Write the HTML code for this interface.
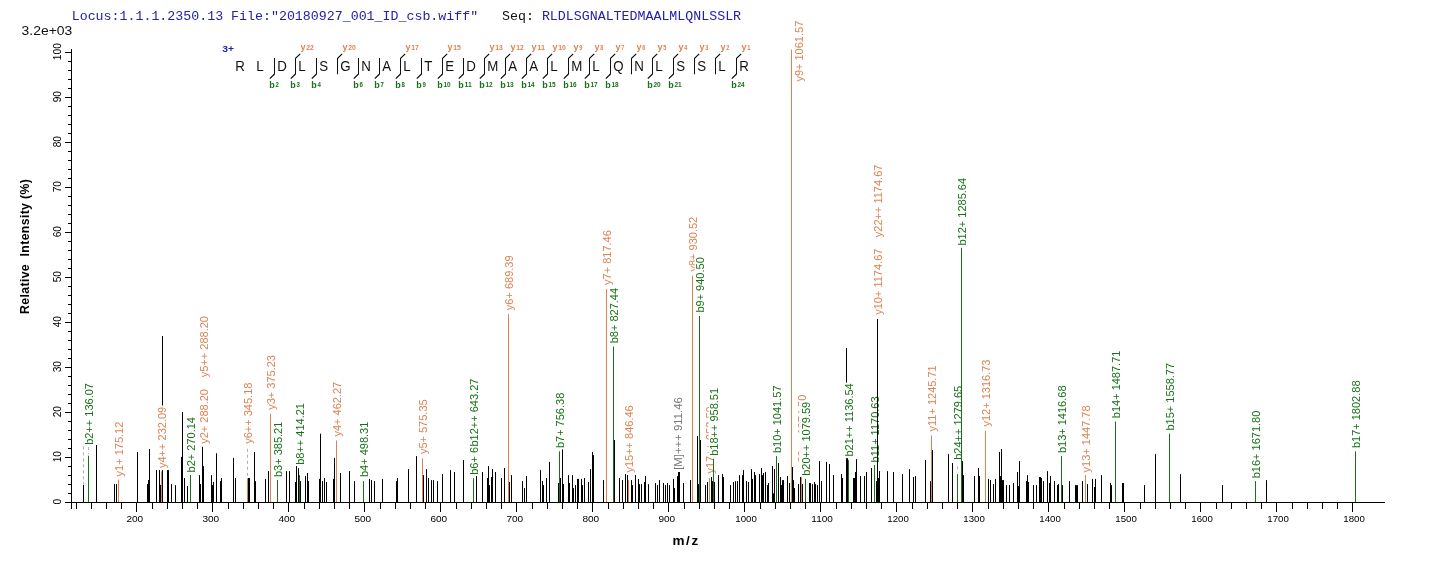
<!DOCTYPE html><html><head><meta charset="utf-8"><title>spectrum</title><style>html,body{margin:0;padding:0;background:#fff}svg{display:block}text{font-family:"Liberation Sans",sans-serif}.m{font-family:"Liberation Mono",monospace}</style></head><body>
<svg style="will-change:transform" width="1436" height="562" viewBox="0 0 1436 562">
<rect width="1436" height="562" fill="#fff"/>
<text class="m" x="71.7" y="19.6" font-size="13.3" fill="#2222A8" textLength="406.5" lengthAdjust="spacingAndGlyphs" xml:space="preserve">Locus:1.1.1.2350.13 File:&quot;20180927_001_ID_csb.wiff&quot;</text>
<text class="m" x="502.1" y="19.6" font-size="13.3" fill="#111" textLength="31.9" lengthAdjust="spacingAndGlyphs">Seq:</text>
<text class="m" x="541.9" y="19.6" font-size="13.3" fill="#2222A8" textLength="199.2" lengthAdjust="spacingAndGlyphs">RLDLSGNALTEDMAALMLQNLSSLR</text>
<text x="21.6" y="34.7" font-size="12" fill="#111" textLength="50.7" lengthAdjust="spacingAndGlyphs">3.2e+03</text>
<rect x="71" y="49.0" width="1" height="454.0" fill="#000"/>
<rect x="65.0" y="502" width="6.0" height="1" fill="#000"/>
<text transform="translate(60.8,501.7) rotate(-90)" text-anchor="middle" font-size="10.2" fill="#000">0</text>
<rect x="68.0" y="493" width="3.0" height="1" fill="#000"/>
<rect x="68.0" y="484" width="3.0" height="1" fill="#000"/>
<rect x="68.0" y="475" width="3.0" height="1" fill="#000"/>
<rect x="68.0" y="466" width="3.0" height="1" fill="#000"/>
<rect x="65.0" y="457" width="6.0" height="1" fill="#000"/>
<text transform="translate(60.8,456.7) rotate(-90)" text-anchor="middle" font-size="10.2" fill="#000">10</text>
<rect x="68.0" y="448" width="3.0" height="1" fill="#000"/>
<rect x="68.0" y="439" width="3.0" height="1" fill="#000"/>
<rect x="68.0" y="430" width="3.0" height="1" fill="#000"/>
<rect x="68.0" y="421" width="3.0" height="1" fill="#000"/>
<rect x="65.0" y="412" width="6.0" height="1" fill="#000"/>
<text transform="translate(60.8,411.7) rotate(-90)" text-anchor="middle" font-size="10.2" fill="#000">20</text>
<rect x="68.0" y="403" width="3.0" height="1" fill="#000"/>
<rect x="68.0" y="394" width="3.0" height="1" fill="#000"/>
<rect x="68.0" y="385" width="3.0" height="1" fill="#000"/>
<rect x="68.0" y="376" width="3.0" height="1" fill="#000"/>
<rect x="65.0" y="367" width="6.0" height="1" fill="#000"/>
<text transform="translate(60.8,366.7) rotate(-90)" text-anchor="middle" font-size="10.2" fill="#000">30</text>
<rect x="68.0" y="358" width="3.0" height="1" fill="#000"/>
<rect x="68.0" y="349" width="3.0" height="1" fill="#000"/>
<rect x="68.0" y="340" width="3.0" height="1" fill="#000"/>
<rect x="68.0" y="331" width="3.0" height="1" fill="#000"/>
<rect x="65.0" y="322" width="6.0" height="1" fill="#000"/>
<text transform="translate(60.8,321.7) rotate(-90)" text-anchor="middle" font-size="10.2" fill="#000">40</text>
<rect x="68.0" y="313" width="3.0" height="1" fill="#000"/>
<rect x="68.0" y="304" width="3.0" height="1" fill="#000"/>
<rect x="68.0" y="295" width="3.0" height="1" fill="#000"/>
<rect x="68.0" y="286" width="3.0" height="1" fill="#000"/>
<rect x="65.0" y="277" width="6.0" height="1" fill="#000"/>
<text transform="translate(60.8,276.7) rotate(-90)" text-anchor="middle" font-size="10.2" fill="#000">50</text>
<rect x="68.0" y="268" width="3.0" height="1" fill="#000"/>
<rect x="68.0" y="259" width="3.0" height="1" fill="#000"/>
<rect x="68.0" y="250" width="3.0" height="1" fill="#000"/>
<rect x="68.0" y="241" width="3.0" height="1" fill="#000"/>
<rect x="65.0" y="232" width="6.0" height="1" fill="#000"/>
<text transform="translate(60.8,231.7) rotate(-90)" text-anchor="middle" font-size="10.2" fill="#000">60</text>
<rect x="68.0" y="223" width="3.0" height="1" fill="#000"/>
<rect x="68.0" y="214" width="3.0" height="1" fill="#000"/>
<rect x="68.0" y="205" width="3.0" height="1" fill="#000"/>
<rect x="68.0" y="196" width="3.0" height="1" fill="#000"/>
<rect x="65.0" y="187" width="6.0" height="1" fill="#000"/>
<text transform="translate(60.8,186.7) rotate(-90)" text-anchor="middle" font-size="10.2" fill="#000">70</text>
<rect x="68.0" y="178" width="3.0" height="1" fill="#000"/>
<rect x="68.0" y="169" width="3.0" height="1" fill="#000"/>
<rect x="68.0" y="160" width="3.0" height="1" fill="#000"/>
<rect x="68.0" y="151" width="3.0" height="1" fill="#000"/>
<rect x="65.0" y="142" width="6.0" height="1" fill="#000"/>
<text transform="translate(60.8,141.7) rotate(-90)" text-anchor="middle" font-size="10.2" fill="#000">80</text>
<rect x="68.0" y="133" width="3.0" height="1" fill="#000"/>
<rect x="68.0" y="124" width="3.0" height="1" fill="#000"/>
<rect x="68.0" y="115" width="3.0" height="1" fill="#000"/>
<rect x="68.0" y="106" width="3.0" height="1" fill="#000"/>
<rect x="65.0" y="97" width="6.0" height="1" fill="#000"/>
<text transform="translate(60.8,96.7) rotate(-90)" text-anchor="middle" font-size="10.2" fill="#000">90</text>
<rect x="68.0" y="88" width="3.0" height="1" fill="#000"/>
<rect x="68.0" y="79" width="3.0" height="1" fill="#000"/>
<rect x="68.0" y="70" width="3.0" height="1" fill="#000"/>
<rect x="68.0" y="61" width="3.0" height="1" fill="#000"/>
<rect x="65.0" y="52" width="6.0" height="1" fill="#000"/>
<text transform="translate(60.8,51.7) rotate(-90)" text-anchor="middle" font-size="10.2" fill="#000">100</text>
<text transform="translate(29.3,313.9) rotate(-90)" font-size="12.3" font-weight="bold" fill="#000" textLength="134.8" lengthAdjust="spacing" xml:space="preserve">Relative  Intensity (%)</text>
<rect x="71.0" y="502" width="1314.0" height="1" fill="#000"/>
<rect x="76" y="502.0" width="1" height="7.0" fill="#000"/>
<rect x="91" y="502.0" width="1" height="7.0" fill="#000"/>
<rect x="106" y="502.0" width="1" height="7.0" fill="#000"/>
<rect x="121" y="502.0" width="1" height="7.0" fill="#000"/>
<rect x="136" y="502.0" width="1" height="10.0" fill="#000"/>
<text x="134.8" y="521.6" text-anchor="middle" font-size="9.6" fill="#000" textLength="16.8" lengthAdjust="spacingAndGlyphs">200</text>
<rect x="152" y="502.0" width="1" height="7.0" fill="#000"/>
<rect x="167" y="502.0" width="1" height="7.0" fill="#000"/>
<rect x="182" y="502.0" width="1" height="7.0" fill="#000"/>
<rect x="197" y="502.0" width="1" height="7.0" fill="#000"/>
<rect x="212" y="502.0" width="1" height="10.0" fill="#000"/>
<text x="210.8" y="521.6" text-anchor="middle" font-size="9.6" fill="#000" textLength="16.8" lengthAdjust="spacingAndGlyphs">300</text>
<rect x="228" y="502.0" width="1" height="7.0" fill="#000"/>
<rect x="243" y="502.0" width="1" height="7.0" fill="#000"/>
<rect x="258" y="502.0" width="1" height="7.0" fill="#000"/>
<rect x="273" y="502.0" width="1" height="7.0" fill="#000"/>
<rect x="288" y="502.0" width="1" height="10.0" fill="#000"/>
<text x="286.8" y="521.6" text-anchor="middle" font-size="9.6" fill="#000" textLength="16.8" lengthAdjust="spacingAndGlyphs">400</text>
<rect x="304" y="502.0" width="1" height="7.0" fill="#000"/>
<rect x="319" y="502.0" width="1" height="7.0" fill="#000"/>
<rect x="334" y="502.0" width="1" height="7.0" fill="#000"/>
<rect x="349" y="502.0" width="1" height="7.0" fill="#000"/>
<rect x="364" y="502.0" width="1" height="10.0" fill="#000"/>
<text x="362.8" y="521.6" text-anchor="middle" font-size="9.6" fill="#000" textLength="16.8" lengthAdjust="spacingAndGlyphs">500</text>
<rect x="380" y="502.0" width="1" height="7.0" fill="#000"/>
<rect x="395" y="502.0" width="1" height="7.0" fill="#000"/>
<rect x="410" y="502.0" width="1" height="7.0" fill="#000"/>
<rect x="425" y="502.0" width="1" height="7.0" fill="#000"/>
<rect x="440" y="502.0" width="1" height="10.0" fill="#000"/>
<text x="438.8" y="521.6" text-anchor="middle" font-size="9.6" fill="#000" textLength="16.8" lengthAdjust="spacingAndGlyphs">600</text>
<rect x="456" y="502.0" width="1" height="7.0" fill="#000"/>
<rect x="471" y="502.0" width="1" height="7.0" fill="#000"/>
<rect x="486" y="502.0" width="1" height="7.0" fill="#000"/>
<rect x="501" y="502.0" width="1" height="7.0" fill="#000"/>
<rect x="516" y="502.0" width="1" height="10.0" fill="#000"/>
<text x="514.8" y="521.6" text-anchor="middle" font-size="9.6" fill="#000" textLength="16.8" lengthAdjust="spacingAndGlyphs">700</text>
<rect x="532" y="502.0" width="1" height="7.0" fill="#000"/>
<rect x="547" y="502.0" width="1" height="7.0" fill="#000"/>
<rect x="562" y="502.0" width="1" height="7.0" fill="#000"/>
<rect x="577" y="502.0" width="1" height="7.0" fill="#000"/>
<rect x="592" y="502.0" width="1" height="10.0" fill="#000"/>
<text x="590.8" y="521.6" text-anchor="middle" font-size="9.6" fill="#000" textLength="16.8" lengthAdjust="spacingAndGlyphs">800</text>
<rect x="608" y="502.0" width="1" height="7.0" fill="#000"/>
<rect x="623" y="502.0" width="1" height="7.0" fill="#000"/>
<rect x="638" y="502.0" width="1" height="7.0" fill="#000"/>
<rect x="653" y="502.0" width="1" height="7.0" fill="#000"/>
<rect x="668" y="502.0" width="1" height="10.0" fill="#000"/>
<text x="666.8" y="521.6" text-anchor="middle" font-size="9.6" fill="#000" textLength="16.8" lengthAdjust="spacingAndGlyphs">900</text>
<rect x="684" y="502.0" width="1" height="7.0" fill="#000"/>
<rect x="699" y="502.0" width="1" height="7.0" fill="#000"/>
<rect x="714" y="502.0" width="1" height="7.0" fill="#000"/>
<rect x="729" y="502.0" width="1" height="7.0" fill="#000"/>
<rect x="744" y="502.0" width="1" height="10.0" fill="#000"/>
<text x="746.1" y="521.6" text-anchor="middle" font-size="9.6" fill="#000" textLength="21.6" lengthAdjust="spacingAndGlyphs">1000</text>
<rect x="760" y="502.0" width="1" height="7.0" fill="#000"/>
<rect x="775" y="502.0" width="1" height="7.0" fill="#000"/>
<rect x="790" y="502.0" width="1" height="7.0" fill="#000"/>
<rect x="805" y="502.0" width="1" height="7.0" fill="#000"/>
<rect x="820" y="502.0" width="1" height="10.0" fill="#000"/>
<text x="822.1" y="521.6" text-anchor="middle" font-size="9.6" fill="#000" textLength="21.6" lengthAdjust="spacingAndGlyphs">1100</text>
<rect x="836" y="502.0" width="1" height="7.0" fill="#000"/>
<rect x="851" y="502.0" width="1" height="7.0" fill="#000"/>
<rect x="866" y="502.0" width="1" height="7.0" fill="#000"/>
<rect x="881" y="502.0" width="1" height="7.0" fill="#000"/>
<rect x="896" y="502.0" width="1" height="10.0" fill="#000"/>
<text x="898.1" y="521.6" text-anchor="middle" font-size="9.6" fill="#000" textLength="21.6" lengthAdjust="spacingAndGlyphs">1200</text>
<rect x="912" y="502.0" width="1" height="7.0" fill="#000"/>
<rect x="927" y="502.0" width="1" height="7.0" fill="#000"/>
<rect x="942" y="502.0" width="1" height="7.0" fill="#000"/>
<rect x="957" y="502.0" width="1" height="7.0" fill="#000"/>
<rect x="972" y="502.0" width="1" height="10.0" fill="#000"/>
<text x="974.1" y="521.6" text-anchor="middle" font-size="9.6" fill="#000" textLength="21.6" lengthAdjust="spacingAndGlyphs">1300</text>
<rect x="988" y="502.0" width="1" height="7.0" fill="#000"/>
<rect x="1003" y="502.0" width="1" height="7.0" fill="#000"/>
<rect x="1018" y="502.0" width="1" height="7.0" fill="#000"/>
<rect x="1033" y="502.0" width="1" height="7.0" fill="#000"/>
<rect x="1048" y="502.0" width="1" height="10.0" fill="#000"/>
<text x="1050.1" y="521.6" text-anchor="middle" font-size="9.6" fill="#000" textLength="21.6" lengthAdjust="spacingAndGlyphs">1400</text>
<rect x="1064" y="502.0" width="1" height="7.0" fill="#000"/>
<rect x="1079" y="502.0" width="1" height="7.0" fill="#000"/>
<rect x="1094" y="502.0" width="1" height="7.0" fill="#000"/>
<rect x="1109" y="502.0" width="1" height="7.0" fill="#000"/>
<rect x="1124" y="502.0" width="1" height="10.0" fill="#000"/>
<text x="1126.1" y="521.6" text-anchor="middle" font-size="9.6" fill="#000" textLength="21.6" lengthAdjust="spacingAndGlyphs">1500</text>
<rect x="1140" y="502.0" width="1" height="7.0" fill="#000"/>
<rect x="1155" y="502.0" width="1" height="7.0" fill="#000"/>
<rect x="1170" y="502.0" width="1" height="7.0" fill="#000"/>
<rect x="1185" y="502.0" width="1" height="7.0" fill="#000"/>
<rect x="1200" y="502.0" width="1" height="10.0" fill="#000"/>
<text x="1202.1" y="521.6" text-anchor="middle" font-size="9.6" fill="#000" textLength="21.6" lengthAdjust="spacingAndGlyphs">1600</text>
<rect x="1216" y="502.0" width="1" height="7.0" fill="#000"/>
<rect x="1231" y="502.0" width="1" height="7.0" fill="#000"/>
<rect x="1246" y="502.0" width="1" height="7.0" fill="#000"/>
<rect x="1261" y="502.0" width="1" height="7.0" fill="#000"/>
<rect x="1276" y="502.0" width="1" height="10.0" fill="#000"/>
<text x="1278.1" y="521.6" text-anchor="middle" font-size="9.6" fill="#000" textLength="21.6" lengthAdjust="spacingAndGlyphs">1700</text>
<rect x="1292" y="502.0" width="1" height="7.0" fill="#000"/>
<rect x="1307" y="502.0" width="1" height="7.0" fill="#000"/>
<rect x="1322" y="502.0" width="1" height="7.0" fill="#000"/>
<rect x="1337" y="502.0" width="1" height="7.0" fill="#000"/>
<rect x="1352" y="502.0" width="1" height="10.0" fill="#000"/>
<text x="1354.1" y="521.6" text-anchor="middle" font-size="9.6" fill="#000" textLength="21.6" lengthAdjust="spacingAndGlyphs">1800</text>
<rect x="71" y="502.0" width="1" height="7.0" fill="#000"/>
<text x="672.4" y="544.8" font-size="13.5" font-weight="bold" fill="#000" textLength="25.9" lengthAdjust="spacing">m/z</text>
<text transform="translate(477.9,474.8) rotate(-90)" font-size="11.0" fill="#177217">b6+ 642.36</text>
<text transform="translate(696.9,271.5) rotate(-90)" font-size="11.0" fill="#DC8353">y8+ 930.52</text>
<text transform="translate(713.9,473.6) rotate(-90)" font-size="11.0" fill="#DC8353">y17++ 953.50</text>
<text transform="translate(805.9,468.0) rotate(-90)" font-size="11.0" fill="#DC8353">y20++ 1074.50</text>
<rect x="468.7" y="377.3" width="11.5" height="70.2" fill="#fff"/>
<text transform="translate(477.9,446.5) rotate(-90)" font-size="11.0" fill="#177217">b12++ 643.27</text>
<rect x="694.7" y="254.6" width="11.5" height="59.0" fill="#fff"/>
<text transform="translate(703.9,312.6) rotate(-90)" font-size="11.0" fill="#177217">b9+ 940.50</text>
<rect x="708.7" y="386.6" width="11.5" height="70.2" fill="#fff"/>
<text transform="translate(717.9,455.8) rotate(-90)" font-size="11.0" fill="#177217">b18++ 958.51</text>
<rect x="799.2" y="401.0" width="13.0" height="75.8" fill="#fff"/>
<text transform="translate(809.9,475.8) rotate(-90)" font-size="11.0" fill="#177217">b20++ 1079.59</text>
<rect x="83" y="484.9" width="1" height="17.1" fill="#000"/>
<rect x="88" y="455.7" width="1" height="46.3" fill="#177217"/>
<rect x="96" y="445.0" width="1" height="57.0" fill="#000"/>
<rect x="114" y="484.1" width="1" height="17.9" fill="#000"/>
<rect x="116" y="484.1" width="1" height="17.9" fill="#000"/>
<rect x="118" y="479.5" width="1" height="22.5" fill="#DC8353"/>
<rect x="137" y="451.9" width="1" height="50.1" fill="#000"/>
<rect x="147" y="484.1" width="1" height="17.9" fill="#000"/>
<rect x="148" y="480.1" width="1" height="21.9" fill="#000"/>
<rect x="149" y="449.0" width="1" height="53.0" fill="#000"/>
<rect x="156" y="470.1" width="1" height="31.9" fill="#000"/>
<rect x="159" y="470.1" width="1" height="31.9" fill="#000"/>
<rect x="160" y="484.9" width="1" height="17.1" fill="#000"/>
<rect x="161" y="471.3" width="1" height="30.7" fill="#DC8353"/>
<rect x="162" y="336.0" width="1" height="69.5" fill="#000"/>
<rect x="162" y="470.1" width="1" height="31.9" fill="#000"/>
<rect x="167" y="470.1" width="1" height="31.9" fill="#000"/>
<rect x="168" y="470.1" width="1" height="31.9" fill="#000"/>
<rect x="171" y="484.1" width="1" height="17.9" fill="#000"/>
<rect x="175" y="485.1" width="1" height="16.9" fill="#000"/>
<rect x="181" y="456.9" width="1" height="45.1" fill="#000"/>
<rect x="182" y="412.1" width="1" height="89.9" fill="#000"/>
<rect x="184" y="478.0" width="1" height="24.0" fill="#000"/>
<rect x="187" y="486.0" width="1" height="16.0" fill="#000"/>
<rect x="190" y="475.1" width="1" height="26.9" fill="#177217"/>
<rect x="199" y="475.1" width="1" height="26.9" fill="#000"/>
<rect x="200" y="484.1" width="1" height="17.9" fill="#000"/>
<rect x="202" y="446.9" width="1" height="55.1" fill="#000"/>
<rect x="203" y="466.1" width="1" height="35.9" fill="#000"/>
<rect x="211" y="475.1" width="1" height="26.9" fill="#000"/>
<rect x="212" y="485.1" width="1" height="16.9" fill="#000"/>
<rect x="213" y="482.0" width="1" height="20.0" fill="#000"/>
<rect x="216" y="453.2" width="1" height="48.8" fill="#000"/>
<rect x="220" y="481.1" width="1" height="20.9" fill="#000"/>
<rect x="221" y="478.0" width="1" height="24.0" fill="#000"/>
<rect x="233" y="457.9" width="1" height="44.1" fill="#000"/>
<rect x="235" y="478.0" width="1" height="24.0" fill="#000"/>
<rect x="247" y="478.2" width="1" height="23.8" fill="#DC8353"/>
<rect x="248" y="478.0" width="1" height="24.0" fill="#000"/>
<rect x="249" y="478.0" width="1" height="24.0" fill="#000"/>
<rect x="254" y="451.9" width="1" height="50.1" fill="#000"/>
<rect x="255" y="481.1" width="1" height="20.9" fill="#000"/>
<rect x="265" y="478.9" width="1" height="23.1" fill="#000"/>
<rect x="268" y="471.1" width="1" height="30.9" fill="#000"/>
<rect x="270" y="413.8" width="1" height="88.2" fill="#DC8353"/>
<rect x="277" y="480.1" width="1" height="21.9" fill="#177217"/>
<rect x="286" y="471.1" width="1" height="30.9" fill="#000"/>
<rect x="289" y="471.1" width="1" height="30.9" fill="#000"/>
<rect x="295" y="482.0" width="1" height="20.0" fill="#000"/>
<rect x="296" y="466.1" width="1" height="35.9" fill="#000"/>
<rect x="298" y="468.2" width="1" height="33.8" fill="#000"/>
<rect x="299" y="475.1" width="1" height="26.9" fill="#177217"/>
<rect x="300" y="481.1" width="1" height="20.9" fill="#000"/>
<rect x="305" y="476.1" width="1" height="25.9" fill="#000"/>
<rect x="307" y="473.0" width="1" height="29.0" fill="#000"/>
<rect x="308" y="481.1" width="1" height="20.9" fill="#000"/>
<rect x="319" y="478.9" width="1" height="23.1" fill="#000"/>
<rect x="320" y="433.7" width="1" height="68.3" fill="#000"/>
<rect x="322" y="481.1" width="1" height="20.9" fill="#000"/>
<rect x="324" y="478.0" width="1" height="24.0" fill="#000"/>
<rect x="326" y="482.0" width="1" height="20.0" fill="#000"/>
<rect x="333" y="478.9" width="1" height="23.1" fill="#000"/>
<rect x="334" y="457.9" width="1" height="44.1" fill="#000"/>
<rect x="336" y="440.5" width="1" height="61.5" fill="#DC8353"/>
<rect x="340" y="473.0" width="1" height="29.0" fill="#000"/>
<rect x="349" y="471.1" width="1" height="30.9" fill="#000"/>
<rect x="354" y="481.1" width="1" height="20.9" fill="#000"/>
<rect x="363" y="481.1" width="1" height="20.9" fill="#177217"/>
<rect x="369" y="478.9" width="1" height="23.1" fill="#000"/>
<rect x="371" y="480.1" width="1" height="21.9" fill="#000"/>
<rect x="374" y="481.1" width="1" height="20.9" fill="#000"/>
<rect x="382" y="478.9" width="1" height="23.1" fill="#000"/>
<rect x="396" y="481.1" width="1" height="20.9" fill="#000"/>
<rect x="397" y="478.0" width="1" height="24.0" fill="#000"/>
<rect x="408" y="469.1" width="1" height="32.9" fill="#000"/>
<rect x="416" y="456.1" width="1" height="45.9" fill="#000"/>
<rect x="422" y="458.2" width="1" height="43.8" fill="#DC8353"/>
<rect x="423" y="475.1" width="1" height="26.9" fill="#000"/>
<rect x="426" y="469.1" width="1" height="32.9" fill="#000"/>
<rect x="428" y="478.0" width="1" height="24.0" fill="#000"/>
<rect x="431" y="480.1" width="1" height="21.9" fill="#000"/>
<rect x="433" y="480.1" width="1" height="21.9" fill="#000"/>
<rect x="437" y="481.1" width="1" height="20.9" fill="#000"/>
<rect x="442" y="474.1" width="1" height="27.9" fill="#000"/>
<rect x="450" y="470.1" width="1" height="31.9" fill="#000"/>
<rect x="454" y="472.0" width="1" height="30.0" fill="#000"/>
<rect x="463" y="460.1" width="1" height="41.9" fill="#000"/>
<rect x="473" y="478.2" width="1" height="23.8" fill="#177217"/>
<rect x="476" y="476.1" width="1" height="25.9" fill="#000"/>
<rect x="482" y="472.0" width="1" height="30.0" fill="#000"/>
<rect x="487" y="478.0" width="1" height="24.0" fill="#000"/>
<rect x="488" y="466.1" width="1" height="35.9" fill="#000"/>
<rect x="489" y="485.1" width="1" height="16.9" fill="#000"/>
<rect x="491" y="477.0" width="1" height="25.0" fill="#000"/>
<rect x="492" y="469.1" width="1" height="32.9" fill="#000"/>
<rect x="495" y="472.0" width="1" height="30.0" fill="#000"/>
<rect x="501" y="478.0" width="1" height="24.0" fill="#000"/>
<rect x="504" y="468.0" width="1" height="34.0" fill="#000"/>
<rect x="508" y="314.0" width="1" height="188.0" fill="#DC8353"/>
<rect x="509" y="482.0" width="1" height="20.0" fill="#000"/>
<rect x="511" y="475.1" width="1" height="26.9" fill="#000"/>
<rect x="522" y="481.1" width="1" height="20.9" fill="#000"/>
<rect x="524" y="488.1" width="1" height="13.9" fill="#000"/>
<rect x="526" y="476.1" width="1" height="25.9" fill="#000"/>
<rect x="540" y="470.1" width="1" height="31.9" fill="#000"/>
<rect x="542" y="481.1" width="1" height="20.9" fill="#000"/>
<rect x="543" y="485.1" width="1" height="16.9" fill="#000"/>
<rect x="546" y="478.0" width="1" height="24.0" fill="#000"/>
<rect x="549" y="461.9" width="1" height="40.1" fill="#000"/>
<rect x="558" y="483.0" width="1" height="19.0" fill="#000"/>
<rect x="559" y="451.3" width="1" height="50.7" fill="#177217"/>
<rect x="560" y="478.0" width="1" height="24.0" fill="#000"/>
<rect x="562" y="449.4" width="1" height="52.6" fill="#000"/>
<rect x="563" y="484.1" width="1" height="17.9" fill="#000"/>
<rect x="568" y="475.1" width="1" height="26.9" fill="#000"/>
<rect x="569" y="483.0" width="1" height="19.0" fill="#000"/>
<rect x="572" y="475.1" width="1" height="26.9" fill="#000"/>
<rect x="573" y="488.1" width="1" height="13.9" fill="#000"/>
<rect x="575" y="485.1" width="1" height="16.9" fill="#000"/>
<rect x="577" y="478.9" width="1" height="23.1" fill="#000"/>
<rect x="578" y="478.9" width="1" height="23.1" fill="#000"/>
<rect x="581" y="478.9" width="1" height="23.1" fill="#000"/>
<rect x="582" y="485.1" width="1" height="16.9" fill="#000"/>
<rect x="584" y="478.0" width="1" height="24.0" fill="#000"/>
<rect x="588" y="482.0" width="1" height="20.0" fill="#000"/>
<rect x="590" y="469.1" width="1" height="32.9" fill="#000"/>
<rect x="592" y="451.9" width="1" height="50.1" fill="#000"/>
<rect x="593" y="455.1" width="1" height="46.9" fill="#000"/>
<rect x="603" y="480.1" width="1" height="21.9" fill="#000"/>
<rect x="606" y="289.1" width="1" height="212.9" fill="#DC8353"/>
<rect x="613" y="346.6" width="1" height="155.4" fill="#177217"/>
<rect x="614" y="440.0" width="1" height="62.0" fill="#000"/>
<rect x="619" y="478.0" width="1" height="24.0" fill="#000"/>
<rect x="622" y="480.1" width="1" height="21.9" fill="#000"/>
<rect x="625" y="474.1" width="1" height="27.9" fill="#000"/>
<rect x="627" y="475.1" width="1" height="26.9" fill="#000"/>
<rect x="628" y="480.1" width="1" height="21.9" fill="#DC8353"/>
<rect x="631" y="480.1" width="1" height="21.9" fill="#000"/>
<rect x="632" y="485.1" width="1" height="16.9" fill="#000"/>
<rect x="635" y="475.1" width="1" height="26.9" fill="#000"/>
<rect x="638" y="478.9" width="1" height="23.1" fill="#000"/>
<rect x="639" y="484.1" width="1" height="17.9" fill="#000"/>
<rect x="641" y="484.1" width="1" height="17.9" fill="#000"/>
<rect x="644" y="482.0" width="1" height="20.0" fill="#000"/>
<rect x="645" y="476.1" width="1" height="25.9" fill="#000"/>
<rect x="648" y="484.1" width="1" height="17.9" fill="#000"/>
<rect x="655" y="483.0" width="1" height="19.0" fill="#000"/>
<rect x="657" y="485.1" width="1" height="16.9" fill="#000"/>
<rect x="659" y="480.1" width="1" height="21.9" fill="#000"/>
<rect x="663" y="483.0" width="1" height="19.0" fill="#000"/>
<rect x="665" y="485.1" width="1" height="16.9" fill="#000"/>
<rect x="667" y="483.0" width="1" height="19.0" fill="#000"/>
<rect x="669" y="485.1" width="1" height="16.9" fill="#000"/>
<rect x="673" y="478.9" width="1" height="23.1" fill="#000"/>
<rect x="674" y="488.1" width="1" height="13.9" fill="#000"/>
<rect x="677" y="476.1" width="1" height="25.9" fill="#000"/>
<rect x="678" y="472.0" width="1" height="30.0" fill="#000"/>
<rect x="679" y="472.0" width="1" height="30.0" fill="#000"/>
<rect x="683" y="483.0" width="1" height="19.0" fill="#000"/>
<rect x="690" y="480.1" width="1" height="21.9" fill="#000"/>
<rect x="692" y="275.6" width="1" height="226.4" fill="#DC8353"/>
<rect x="697" y="436.0" width="1" height="66.0" fill="#000"/>
<rect x="698" y="484.1" width="1" height="17.9" fill="#000"/>
<rect x="699" y="316.0" width="1" height="186.0" fill="#177217"/>
<rect x="700" y="440.0" width="1" height="62.0" fill="#000"/>
<rect x="705" y="485.1" width="1" height="16.9" fill="#000"/>
<rect x="707" y="482.0" width="1" height="20.0" fill="#000"/>
<rect x="709" y="478.0" width="1" height="24.0" fill="#DC8353"/>
<rect x="711" y="477.0" width="1" height="25.0" fill="#000"/>
<rect x="712" y="481.1" width="1" height="20.9" fill="#000"/>
<rect x="713" y="458.8" width="1" height="43.2" fill="#177217"/>
<rect x="714" y="482.0" width="1" height="20.0" fill="#000"/>
<rect x="718" y="475.1" width="1" height="26.9" fill="#000"/>
<rect x="722" y="474.1" width="1" height="27.9" fill="#000"/>
<rect x="723" y="477.0" width="1" height="25.0" fill="#000"/>
<rect x="730" y="485.1" width="1" height="16.9" fill="#000"/>
<rect x="733" y="482.0" width="1" height="20.0" fill="#000"/>
<rect x="735" y="481.1" width="1" height="20.9" fill="#000"/>
<rect x="737" y="481.1" width="1" height="20.9" fill="#000"/>
<rect x="739" y="475.1" width="1" height="26.9" fill="#000"/>
<rect x="742" y="475.1" width="1" height="26.9" fill="#000"/>
<rect x="743" y="470.1" width="1" height="31.9" fill="#000"/>
<rect x="746" y="481.1" width="1" height="20.9" fill="#000"/>
<rect x="748" y="482.0" width="1" height="20.0" fill="#000"/>
<rect x="751" y="469.1" width="1" height="32.9" fill="#000"/>
<rect x="752" y="478.9" width="1" height="23.1" fill="#000"/>
<rect x="754" y="472.0" width="1" height="30.0" fill="#000"/>
<rect x="755" y="475.1" width="1" height="26.9" fill="#000"/>
<rect x="759" y="474.1" width="1" height="27.9" fill="#000"/>
<rect x="761" y="468.0" width="1" height="34.0" fill="#000"/>
<rect x="762" y="475.1" width="1" height="26.9" fill="#000"/>
<rect x="763" y="473.0" width="1" height="29.0" fill="#000"/>
<rect x="765" y="472.0" width="1" height="30.0" fill="#000"/>
<rect x="767" y="485.1" width="1" height="16.9" fill="#000"/>
<rect x="768" y="483.0" width="1" height="19.0" fill="#000"/>
<rect x="772" y="466.1" width="1" height="35.9" fill="#000"/>
<rect x="773" y="493.3" width="1" height="8.7" fill="#000"/>
<rect x="774" y="469.1" width="1" height="32.9" fill="#000"/>
<rect x="776" y="456.1" width="1" height="45.9" fill="#177217"/>
<rect x="778" y="463.0" width="1" height="39.0" fill="#000"/>
<rect x="780" y="477.0" width="1" height="25.0" fill="#000"/>
<rect x="781" y="485.1" width="1" height="16.9" fill="#000"/>
<rect x="782" y="480.1" width="1" height="21.9" fill="#000"/>
<rect x="783" y="480.1" width="1" height="21.9" fill="#000"/>
<rect x="787" y="476.1" width="1" height="25.9" fill="#000"/>
<rect x="789" y="483.0" width="1" height="19.0" fill="#000"/>
<rect x="791" y="49.6" width="1" height="452.4" fill="#DC8353"/>
<rect x="792" y="467.0" width="1" height="35.0" fill="#000"/>
<rect x="793" y="480.1" width="1" height="21.9" fill="#000"/>
<rect x="794" y="488.1" width="1" height="13.9" fill="#000"/>
<rect x="798" y="484.1" width="1" height="17.9" fill="#000"/>
<rect x="800" y="477.0" width="1" height="25.0" fill="#000"/>
<rect x="801" y="477.0" width="1" height="25.0" fill="#DC8353"/>
<rect x="802" y="484.1" width="1" height="17.9" fill="#000"/>
<rect x="805" y="478.9" width="1" height="23.1" fill="#177217"/>
<rect x="809" y="483.0" width="1" height="19.0" fill="#000"/>
<rect x="810" y="483.0" width="1" height="19.0" fill="#000"/>
<rect x="812" y="484.1" width="1" height="17.9" fill="#000"/>
<rect x="814" y="482.0" width="1" height="20.0" fill="#000"/>
<rect x="815" y="484.1" width="1" height="17.9" fill="#000"/>
<rect x="817" y="485.1" width="1" height="16.9" fill="#000"/>
<rect x="819" y="461.1" width="1" height="40.9" fill="#000"/>
<rect x="821" y="481.1" width="1" height="20.9" fill="#000"/>
<rect x="826" y="461.9" width="1" height="40.1" fill="#000"/>
<rect x="829" y="464.1" width="1" height="37.9" fill="#000"/>
<rect x="833" y="475.1" width="1" height="26.9" fill="#000"/>
<rect x="841" y="474.1" width="1" height="27.9" fill="#000"/>
<rect x="842" y="478.0" width="1" height="24.0" fill="#000"/>
<rect x="846" y="348.1" width="1" height="34.5" fill="#000"/>
<rect x="846" y="458.2" width="1" height="43.8" fill="#000"/>
<rect x="847" y="458.2" width="1" height="43.8" fill="#000"/>
<rect x="848" y="460.1" width="1" height="41.9" fill="#177217"/>
<rect x="853" y="478.0" width="1" height="24.0" fill="#000"/>
<rect x="854" y="478.0" width="1" height="24.0" fill="#000"/>
<rect x="855" y="472.0" width="1" height="30.0" fill="#000"/>
<rect x="856" y="459.1" width="1" height="42.9" fill="#000"/>
<rect x="860" y="476.1" width="1" height="25.9" fill="#000"/>
<rect x="864" y="476.1" width="1" height="25.9" fill="#000"/>
<rect x="866" y="472.0" width="1" height="30.0" fill="#000"/>
<rect x="871" y="468.0" width="1" height="34.0" fill="#000"/>
<rect x="874" y="465.1" width="1" height="36.9" fill="#177217"/>
<rect x="876" y="481.1" width="1" height="20.9" fill="#000"/>
<rect x="877" y="319.1" width="1" height="182.9" fill="#000"/>
<rect x="878" y="478.0" width="1" height="24.0" fill="#000"/>
<rect x="879" y="471.1" width="1" height="30.9" fill="#000"/>
<rect x="887" y="471.1" width="1" height="30.9" fill="#000"/>
<rect x="893" y="472.0" width="1" height="30.0" fill="#000"/>
<rect x="902" y="474.1" width="1" height="27.9" fill="#000"/>
<rect x="909" y="469.1" width="1" height="32.9" fill="#000"/>
<rect x="913" y="477.0" width="1" height="25.0" fill="#000"/>
<rect x="915" y="476.1" width="1" height="25.9" fill="#000"/>
<rect x="925" y="460.1" width="1" height="41.9" fill="#000"/>
<rect x="930" y="481.1" width="1" height="20.9" fill="#000"/>
<rect x="931" y="435.5" width="1" height="66.5" fill="#DC8353"/>
<rect x="932" y="450.0" width="1" height="52.0" fill="#000"/>
<rect x="948" y="454.1" width="1" height="47.9" fill="#000"/>
<rect x="952" y="463.0" width="1" height="39.0" fill="#000"/>
<rect x="957" y="474.1" width="1" height="27.9" fill="#177217"/>
<rect x="961" y="247.9" width="1" height="254.1" fill="#177217"/>
<rect x="962" y="461.1" width="1" height="40.9" fill="#000"/>
<rect x="963" y="475.1" width="1" height="26.9" fill="#000"/>
<rect x="974" y="476.1" width="1" height="25.9" fill="#000"/>
<rect x="978" y="468.0" width="1" height="34.0" fill="#000"/>
<rect x="979" y="476.1" width="1" height="25.9" fill="#000"/>
<rect x="985" y="430.9" width="1" height="71.1" fill="#DC8353"/>
<rect x="988" y="478.9" width="1" height="23.1" fill="#000"/>
<rect x="990" y="480.1" width="1" height="21.9" fill="#000"/>
<rect x="993" y="484.1" width="1" height="17.9" fill="#000"/>
<rect x="995" y="478.9" width="1" height="23.1" fill="#000"/>
<rect x="999" y="451.9" width="1" height="50.1" fill="#000"/>
<rect x="1000" y="476.1" width="1" height="25.9" fill="#000"/>
<rect x="1001" y="449.0" width="1" height="53.0" fill="#000"/>
<rect x="1002" y="480.1" width="1" height="21.9" fill="#000"/>
<rect x="1003" y="480.1" width="1" height="21.9" fill="#000"/>
<rect x="1006" y="485.1" width="1" height="16.9" fill="#000"/>
<rect x="1009" y="485.1" width="1" height="16.9" fill="#000"/>
<rect x="1013" y="483.0" width="1" height="19.0" fill="#000"/>
<rect x="1017" y="472.0" width="1" height="30.0" fill="#000"/>
<rect x="1018" y="486.0" width="1" height="16.0" fill="#000"/>
<rect x="1019" y="461.1" width="1" height="40.9" fill="#000"/>
<rect x="1026" y="481.1" width="1" height="20.9" fill="#000"/>
<rect x="1027" y="475.1" width="1" height="26.9" fill="#000"/>
<rect x="1028" y="482.0" width="1" height="20.0" fill="#000"/>
<rect x="1033" y="485.1" width="1" height="16.9" fill="#000"/>
<rect x="1036" y="485.1" width="1" height="16.9" fill="#000"/>
<rect x="1039" y="477.0" width="1" height="25.0" fill="#000"/>
<rect x="1040" y="477.0" width="1" height="25.0" fill="#000"/>
<rect x="1041" y="478.0" width="1" height="24.0" fill="#000"/>
<rect x="1043" y="481.1" width="1" height="20.9" fill="#000"/>
<rect x="1047" y="471.1" width="1" height="30.9" fill="#000"/>
<rect x="1049" y="483.0" width="1" height="19.0" fill="#000"/>
<rect x="1050" y="476.1" width="1" height="25.9" fill="#000"/>
<rect x="1054" y="481.1" width="1" height="20.9" fill="#000"/>
<rect x="1057" y="485.1" width="1" height="16.9" fill="#000"/>
<rect x="1058" y="484.1" width="1" height="17.9" fill="#000"/>
<rect x="1061" y="456.1" width="1" height="45.9" fill="#177217"/>
<rect x="1062" y="485.1" width="1" height="16.9" fill="#000"/>
<rect x="1069" y="481.1" width="1" height="20.9" fill="#000"/>
<rect x="1075" y="485.1" width="1" height="16.9" fill="#000"/>
<rect x="1076" y="485.1" width="1" height="16.9" fill="#000"/>
<rect x="1077" y="485.1" width="1" height="16.9" fill="#000"/>
<rect x="1082" y="481.1" width="1" height="20.9" fill="#000"/>
<rect x="1085" y="475.1" width="1" height="26.9" fill="#DC8353"/>
<rect x="1087" y="484.1" width="1" height="17.9" fill="#000"/>
<rect x="1092" y="478.9" width="1" height="23.1" fill="#000"/>
<rect x="1094" y="487.0" width="1" height="15.0" fill="#000"/>
<rect x="1095" y="478.9" width="1" height="23.1" fill="#000"/>
<rect x="1101" y="475.1" width="1" height="26.9" fill="#000"/>
<rect x="1110" y="483.0" width="1" height="19.0" fill="#000"/>
<rect x="1111" y="485.1" width="1" height="16.9" fill="#000"/>
<rect x="1115" y="421.5" width="1" height="80.5" fill="#177217"/>
<rect x="1122" y="483.0" width="1" height="19.0" fill="#000"/>
<rect x="1123" y="483.0" width="1" height="19.0" fill="#000"/>
<rect x="1144" y="485.1" width="1" height="16.9" fill="#000"/>
<rect x="1155" y="454.1" width="1" height="47.9" fill="#000"/>
<rect x="1169" y="433.7" width="1" height="68.3" fill="#177217"/>
<rect x="1180" y="474.1" width="1" height="27.9" fill="#000"/>
<rect x="1222" y="485.1" width="1" height="16.9" fill="#000"/>
<rect x="1255" y="481.1" width="1" height="20.9" fill="#177217"/>
<rect x="1266" y="480.1" width="1" height="21.9" fill="#000"/>
<rect x="1355" y="451.3" width="1" height="50.7" fill="#177217"/>
<rect x="83" y="446.3" width="1" height="3.0" fill="#b0b0b0"/>
<rect x="83" y="452.3" width="1" height="3.0" fill="#b0b0b0"/>
<rect x="83" y="458.3" width="1" height="3.0" fill="#b0b0b0"/>
<rect x="83" y="464.3" width="1" height="3.0" fill="#b0b0b0"/>
<rect x="83" y="470.3" width="1" height="3.0" fill="#b0b0b0"/>
<rect x="83" y="476.3" width="1" height="3.0" fill="#b0b0b0"/>
<rect x="83" y="482.3" width="1" height="2.2" fill="#b0b0b0"/>
<rect x="88" y="447.0" width="1" height="3.0" fill="#b0b0b0"/>
<rect x="88" y="453.0" width="1" height="1.0" fill="#b0b0b0"/>
<rect x="247" y="448.8" width="1" height="3.0" fill="#b0b0b0"/>
<rect x="247" y="454.8" width="1" height="3.0" fill="#b0b0b0"/>
<rect x="247" y="460.8" width="1" height="3.0" fill="#b0b0b0"/>
<rect x="247" y="466.8" width="1" height="3.0" fill="#b0b0b0"/>
<rect x="247" y="472.8" width="1" height="3.0" fill="#b0b0b0"/>
<rect x="957" y="466.3" width="1" height="3.0" fill="#b0b0b0"/>
<rect x="957" y="472.3" width="1" height="0.3" fill="#b0b0b0"/>
<text transform="translate(92.9,444.8) rotate(-90)" font-size="11.0" fill="#177217">b2++ 136.07</text>
<text transform="translate(122.9,476.4) rotate(-90)" font-size="11.0" fill="#DC8353">y1+ 175.12</text>
<text transform="translate(165.9,468.0) rotate(-90)" font-size="11.0" fill="#DC8353">y4++ 232.09</text>
<text transform="translate(194.9,472.4) rotate(-90)" font-size="11.0" fill="#177217">b2+ 270.14</text>
<text transform="translate(207.5,443.8) rotate(-90)" font-size="11.0" fill="#DC8353">y2+ 288.20</text>
<text transform="translate(207.5,377.2) rotate(-90)" font-size="11.0" fill="#DC8353">y5++ 288.20</text>
<text transform="translate(251.9,443.8) rotate(-90)" font-size="11.0" fill="#DC8353">y6++ 345.18</text>
<text transform="translate(274.9,409.8) rotate(-90)" font-size="11.0" fill="#DC8353">y3+ 375.23</text>
<text transform="translate(281.9,477.0) rotate(-90)" font-size="11.0" fill="#177217">b3+ 385.21</text>
<text transform="translate(303.9,464.8) rotate(-90)" font-size="11.0" fill="#177217">b8++ 414.21</text>
<text transform="translate(340.9,436.5) rotate(-90)" font-size="11.0" fill="#DC8353">y4+ 462.27</text>
<text transform="translate(367.9,477.0) rotate(-90)" font-size="11.0" fill="#177217">b4+ 498.31</text>
<text transform="translate(426.9,454.1) rotate(-90)" font-size="11.0" fill="#DC8353">y5+ 575.35</text>
<text transform="translate(512.9,310.2) rotate(-90)" font-size="11.0" fill="#DC8353">y6+ 689.39</text>
<text transform="translate(563.9,448.1) rotate(-90)" font-size="11.0" fill="#177217">b7+ 756.38</text>
<text transform="translate(610.9,284.9) rotate(-90)" font-size="11.0" fill="#DC8353">y7+ 817.46</text>
<text transform="translate(617.9,343.3) rotate(-90)" font-size="11.0" fill="#177217">b8+ 827.44</text>
<text transform="translate(632.9,472.6) rotate(-90)" font-size="11.0" fill="#DC8353">y15++ 846.46</text>
<text transform="translate(681.8,469.8) rotate(-90)" font-size="11.0" fill="#757575" textLength="72.6" lengthAdjust="spacingAndGlyphs">[M]+++ 911.46</text>
<text transform="translate(780.9,453.1) rotate(-90)" font-size="11.0" fill="#177217">b10+ 1041.57</text>
<text transform="translate(803.0,81.6) rotate(-90)" font-size="11.0" fill="#DC8353">y9+ 1061.57</text>
<text transform="translate(852.9,456.5) rotate(-90)" font-size="11.0" fill="#177217">b21++ 1136.54</text>
<text transform="translate(878.9,462.4) rotate(-90)" font-size="11.0" fill="#177217">b11+ 1170.63</text>
<text transform="translate(881.9,314.8) rotate(-90)" font-size="11.0" fill="#DC8353">y10+ 1174.67</text>
<text transform="translate(881.9,237.2) rotate(-90)" font-size="11.0" fill="#DC8353">y22++ 1174.67</text>
<text transform="translate(935.9,431.5) rotate(-90)" font-size="11.0" fill="#DC8353">y11+ 1245.71</text>
<text transform="translate(961.9,459.8) rotate(-90)" font-size="11.0" fill="#177217">b24++ 1279.65</text>
<text transform="translate(965.9,245.5) rotate(-90)" font-size="11.0" fill="#177217">b12+ 1285.64</text>
<text transform="translate(989.9,426.5) rotate(-90)" font-size="11.0" fill="#DC8353">y12+ 1316.73</text>
<text transform="translate(1065.9,453.1) rotate(-90)" font-size="11.0" fill="#177217">b13+ 1416.68</text>
<text transform="translate(1089.9,472.4) rotate(-90)" font-size="11.0" fill="#DC8353">y13+ 1447.78</text>
<text transform="translate(1119.9,418.2) rotate(-90)" font-size="11.0" fill="#177217">b14+ 1487.71</text>
<text transform="translate(1173.9,430.5) rotate(-90)" font-size="11.0" fill="#177217">b15+ 1558.77</text>
<text transform="translate(1259.9,478.3) rotate(-90)" font-size="11.0" fill="#177217">b16+ 1671.80</text>
<text transform="translate(1359.9,448.1) rotate(-90)" font-size="11.0" fill="#177217">b17+ 1802.88</text>
<rect x="877" y="319.1" width="1" height="182.9" fill="#000"/>
<rect x="961" y="247.9" width="1" height="254.1" fill="#177217"/>
<text transform="translate(235.3,70.8) scale(1,1.07)" font-size="13.3" fill="#111">R</text>
<text transform="translate(256.3,70.8) scale(1,1.07)" font-size="13.3" fill="#111">L</text>
<text transform="translate(277.3,70.8) scale(1,1.07)" font-size="13.3" fill="#111">D</text>
<text transform="translate(298.3,70.8) scale(1,1.07)" font-size="13.3" fill="#111">L</text>
<text transform="translate(319.3,70.8) scale(1,1.07)" font-size="13.3" fill="#111">S</text>
<text transform="translate(340.3,70.8) scale(1,1.07)" font-size="13.3" fill="#111">G</text>
<text transform="translate(361.3,70.8) scale(1,1.07)" font-size="13.3" fill="#111">N</text>
<text transform="translate(382.3,70.8) scale(1,1.07)" font-size="13.3" fill="#111">A</text>
<text transform="translate(403.3,70.8) scale(1,1.07)" font-size="13.3" fill="#111">L</text>
<text transform="translate(424.3,70.8) scale(1,1.07)" font-size="13.3" fill="#111">T</text>
<text transform="translate(445.3,70.8) scale(1,1.07)" font-size="13.3" fill="#111">E</text>
<text transform="translate(466.3,70.8) scale(1,1.07)" font-size="13.3" fill="#111">D</text>
<text transform="translate(487.3,70.8) scale(1,1.07)" font-size="13.3" fill="#111">M</text>
<text transform="translate(508.3,70.8) scale(1,1.07)" font-size="13.3" fill="#111">A</text>
<text transform="translate(529.3,70.8) scale(1,1.07)" font-size="13.3" fill="#111">A</text>
<text transform="translate(550.3,70.8) scale(1,1.07)" font-size="13.3" fill="#111">L</text>
<text transform="translate(571.3,70.8) scale(1,1.07)" font-size="13.3" fill="#111">M</text>
<text transform="translate(592.3,70.8) scale(1,1.07)" font-size="13.3" fill="#111">L</text>
<text transform="translate(613.3,70.8) scale(1,1.07)" font-size="13.3" fill="#111">Q</text>
<text transform="translate(634.3,70.8) scale(1,1.07)" font-size="13.3" fill="#111">N</text>
<text transform="translate(655.3,70.8) scale(1,1.07)" font-size="13.3" fill="#111">L</text>
<text transform="translate(676.3,70.8) scale(1,1.07)" font-size="13.3" fill="#111">S</text>
<text transform="translate(697.3,70.8) scale(1,1.07)" font-size="13.3" fill="#111">S</text>
<text transform="translate(718.3,70.8) scale(1,1.07)" font-size="13.3" fill="#111">L</text>
<text transform="translate(739.3,70.8) scale(1,1.07)" font-size="13.3" fill="#111">R</text>
<text x="222.3" y="51.5" font-size="8.6" font-weight="bold" fill="#2222A8" textLength="11.8" lengthAdjust="spacingAndGlyphs">3+</text>
<rect x="274" y="58.0" width="1" height="16.3" fill="#111"/>
<path d="M274.5,74 L269.8,78.7" fill="none" stroke="#000" stroke-width="1.1"/>
<text x="269.3" y="87.7" font-size="9" font-weight="bold" fill="#177217">b</text>
<text x="275.5" y="87.1" font-size="6.5" font-weight="bold" fill="#177217" textLength="3.4" lengthAdjust="spacingAndGlyphs">2</text>
<rect x="295" y="58.0" width="1" height="16.3" fill="#111"/>
<path d="M300.2,53.8 L295.5,58.4" fill="none" stroke="#000" stroke-width="1.1"/>
<path d="M295.5,74 L290.8,78.7" fill="none" stroke="#000" stroke-width="1.1"/>
<text x="290.3" y="87.7" font-size="9" font-weight="bold" fill="#177217">b</text>
<text x="296.5" y="87.1" font-size="6.5" font-weight="bold" fill="#177217" textLength="3.4" lengthAdjust="spacingAndGlyphs">3</text>
<text x="300.5" y="49.7" font-size="9" font-weight="bold" fill="#DC8353">y</text>
<text x="306.3" y="49.7" font-size="6.5" font-weight="bold" fill="#DC8353" textLength="7.6" lengthAdjust="spacingAndGlyphs">22</text>
<rect x="316" y="58.0" width="1" height="16.3" fill="#111"/>
<path d="M316.5,74 L311.8,78.7" fill="none" stroke="#000" stroke-width="1.1"/>
<text x="311.3" y="87.7" font-size="9" font-weight="bold" fill="#177217">b</text>
<text x="317.5" y="87.1" font-size="6.5" font-weight="bold" fill="#177217" textLength="3.4" lengthAdjust="spacingAndGlyphs">4</text>
<rect x="337" y="58.0" width="1" height="16.3" fill="#111"/>
<path d="M342.2,53.8 L337.5,58.4" fill="none" stroke="#000" stroke-width="1.1"/>
<text x="342.5" y="49.7" font-size="9" font-weight="bold" fill="#DC8353">y</text>
<text x="348.3" y="49.7" font-size="6.5" font-weight="bold" fill="#DC8353" textLength="7.6" lengthAdjust="spacingAndGlyphs">20</text>
<rect x="358" y="58.0" width="1" height="16.3" fill="#111"/>
<path d="M358.5,74 L353.8,78.7" fill="none" stroke="#000" stroke-width="1.1"/>
<text x="353.3" y="87.7" font-size="9" font-weight="bold" fill="#177217">b</text>
<text x="359.5" y="87.1" font-size="6.5" font-weight="bold" fill="#177217" textLength="3.4" lengthAdjust="spacingAndGlyphs">6</text>
<rect x="379" y="58.0" width="1" height="16.3" fill="#111"/>
<path d="M379.5,74 L374.8,78.7" fill="none" stroke="#000" stroke-width="1.1"/>
<text x="374.3" y="87.7" font-size="9" font-weight="bold" fill="#177217">b</text>
<text x="380.5" y="87.1" font-size="6.5" font-weight="bold" fill="#177217" textLength="3.4" lengthAdjust="spacingAndGlyphs">7</text>
<rect x="400" y="58.0" width="1" height="16.3" fill="#111"/>
<path d="M405.2,53.8 L400.5,58.4" fill="none" stroke="#000" stroke-width="1.1"/>
<path d="M400.5,74 L395.8,78.7" fill="none" stroke="#000" stroke-width="1.1"/>
<text x="395.3" y="87.7" font-size="9" font-weight="bold" fill="#177217">b</text>
<text x="401.5" y="87.1" font-size="6.5" font-weight="bold" fill="#177217" textLength="3.4" lengthAdjust="spacingAndGlyphs">8</text>
<text x="405.5" y="49.7" font-size="9" font-weight="bold" fill="#DC8353">y</text>
<text x="411.3" y="49.7" font-size="6.5" font-weight="bold" fill="#DC8353" textLength="7.6" lengthAdjust="spacingAndGlyphs">17</text>
<rect x="421" y="58.0" width="1" height="16.3" fill="#111"/>
<path d="M421.5,74 L416.8,78.7" fill="none" stroke="#000" stroke-width="1.1"/>
<text x="416.3" y="87.7" font-size="9" font-weight="bold" fill="#177217">b</text>
<text x="422.5" y="87.1" font-size="6.5" font-weight="bold" fill="#177217" textLength="3.4" lengthAdjust="spacingAndGlyphs">9</text>
<rect x="442" y="58.0" width="1" height="16.3" fill="#111"/>
<path d="M447.2,53.8 L442.5,58.4" fill="none" stroke="#000" stroke-width="1.1"/>
<path d="M442.5,74 L437.8,78.7" fill="none" stroke="#000" stroke-width="1.1"/>
<text x="437.3" y="87.7" font-size="9" font-weight="bold" fill="#177217">b</text>
<text x="443.5" y="87.1" font-size="6.5" font-weight="bold" fill="#177217" textLength="7.2" lengthAdjust="spacingAndGlyphs">10</text>
<text x="447.5" y="49.7" font-size="9" font-weight="bold" fill="#DC8353">y</text>
<text x="453.3" y="49.7" font-size="6.5" font-weight="bold" fill="#DC8353" textLength="7.6" lengthAdjust="spacingAndGlyphs">15</text>
<rect x="463" y="58.0" width="1" height="16.3" fill="#111"/>
<path d="M463.5,74 L458.8,78.7" fill="none" stroke="#000" stroke-width="1.1"/>
<text x="458.3" y="87.7" font-size="9" font-weight="bold" fill="#177217">b</text>
<text x="464.5" y="87.1" font-size="6.5" font-weight="bold" fill="#177217" textLength="7.2" lengthAdjust="spacingAndGlyphs">11</text>
<rect x="484" y="58.0" width="1" height="16.3" fill="#111"/>
<path d="M489.2,53.8 L484.5,58.4" fill="none" stroke="#000" stroke-width="1.1"/>
<path d="M484.5,74 L479.8,78.7" fill="none" stroke="#000" stroke-width="1.1"/>
<text x="479.3" y="87.7" font-size="9" font-weight="bold" fill="#177217">b</text>
<text x="485.5" y="87.1" font-size="6.5" font-weight="bold" fill="#177217" textLength="7.2" lengthAdjust="spacingAndGlyphs">12</text>
<text x="489.5" y="49.7" font-size="9" font-weight="bold" fill="#DC8353">y</text>
<text x="495.3" y="49.7" font-size="6.5" font-weight="bold" fill="#DC8353" textLength="7.6" lengthAdjust="spacingAndGlyphs">13</text>
<rect x="505" y="58.0" width="1" height="16.3" fill="#111"/>
<path d="M510.2,53.8 L505.5,58.4" fill="none" stroke="#000" stroke-width="1.1"/>
<path d="M505.5,74 L500.8,78.7" fill="none" stroke="#000" stroke-width="1.1"/>
<text x="500.3" y="87.7" font-size="9" font-weight="bold" fill="#177217">b</text>
<text x="506.5" y="87.1" font-size="6.5" font-weight="bold" fill="#177217" textLength="7.2" lengthAdjust="spacingAndGlyphs">13</text>
<text x="510.5" y="49.7" font-size="9" font-weight="bold" fill="#DC8353">y</text>
<text x="516.3" y="49.7" font-size="6.5" font-weight="bold" fill="#DC8353" textLength="7.6" lengthAdjust="spacingAndGlyphs">12</text>
<rect x="526" y="58.0" width="1" height="16.3" fill="#111"/>
<path d="M531.2,53.8 L526.5,58.4" fill="none" stroke="#000" stroke-width="1.1"/>
<path d="M526.5,74 L521.8,78.7" fill="none" stroke="#000" stroke-width="1.1"/>
<text x="521.3" y="87.7" font-size="9" font-weight="bold" fill="#177217">b</text>
<text x="527.5" y="87.1" font-size="6.5" font-weight="bold" fill="#177217" textLength="7.2" lengthAdjust="spacingAndGlyphs">14</text>
<text x="531.5" y="49.7" font-size="9" font-weight="bold" fill="#DC8353">y</text>
<text x="537.3" y="49.7" font-size="6.5" font-weight="bold" fill="#DC8353" textLength="7.6" lengthAdjust="spacingAndGlyphs">11</text>
<rect x="547" y="58.0" width="1" height="16.3" fill="#111"/>
<path d="M552.2,53.8 L547.5,58.4" fill="none" stroke="#000" stroke-width="1.1"/>
<path d="M547.5,74 L542.8,78.7" fill="none" stroke="#000" stroke-width="1.1"/>
<text x="542.3" y="87.7" font-size="9" font-weight="bold" fill="#177217">b</text>
<text x="548.5" y="87.1" font-size="6.5" font-weight="bold" fill="#177217" textLength="7.2" lengthAdjust="spacingAndGlyphs">15</text>
<text x="552.5" y="49.7" font-size="9" font-weight="bold" fill="#DC8353">y</text>
<text x="558.3" y="49.7" font-size="6.5" font-weight="bold" fill="#DC8353" textLength="7.6" lengthAdjust="spacingAndGlyphs">10</text>
<rect x="568" y="58.0" width="1" height="16.3" fill="#111"/>
<path d="M573.2,53.8 L568.5,58.4" fill="none" stroke="#000" stroke-width="1.1"/>
<path d="M568.5,74 L563.8,78.7" fill="none" stroke="#000" stroke-width="1.1"/>
<text x="563.3" y="87.7" font-size="9" font-weight="bold" fill="#177217">b</text>
<text x="569.5" y="87.1" font-size="6.5" font-weight="bold" fill="#177217" textLength="7.2" lengthAdjust="spacingAndGlyphs">16</text>
<text x="573.5" y="49.7" font-size="9" font-weight="bold" fill="#DC8353">y</text>
<text x="579.3" y="49.7" font-size="6.5" font-weight="bold" fill="#DC8353" textLength="3.1" lengthAdjust="spacingAndGlyphs">9</text>
<rect x="589" y="58.0" width="1" height="16.3" fill="#111"/>
<path d="M594.2,53.8 L589.5,58.4" fill="none" stroke="#000" stroke-width="1.1"/>
<path d="M589.5,74 L584.8,78.7" fill="none" stroke="#000" stroke-width="1.1"/>
<text x="584.3" y="87.7" font-size="9" font-weight="bold" fill="#177217">b</text>
<text x="590.5" y="87.1" font-size="6.5" font-weight="bold" fill="#177217" textLength="7.2" lengthAdjust="spacingAndGlyphs">17</text>
<text x="594.5" y="49.7" font-size="9" font-weight="bold" fill="#DC8353">y</text>
<text x="600.3" y="49.7" font-size="6.5" font-weight="bold" fill="#DC8353" textLength="3.1" lengthAdjust="spacingAndGlyphs">8</text>
<rect x="610" y="58.0" width="1" height="16.3" fill="#111"/>
<path d="M615.2,53.8 L610.5,58.4" fill="none" stroke="#000" stroke-width="1.1"/>
<path d="M610.5,74 L605.8,78.7" fill="none" stroke="#000" stroke-width="1.1"/>
<text x="605.3" y="87.7" font-size="9" font-weight="bold" fill="#177217">b</text>
<text x="611.5" y="87.1" font-size="6.5" font-weight="bold" fill="#177217" textLength="7.2" lengthAdjust="spacingAndGlyphs">18</text>
<text x="615.5" y="49.7" font-size="9" font-weight="bold" fill="#DC8353">y</text>
<text x="621.3" y="49.7" font-size="6.5" font-weight="bold" fill="#DC8353" textLength="3.1" lengthAdjust="spacingAndGlyphs">7</text>
<rect x="631" y="58.0" width="1" height="16.3" fill="#111"/>
<path d="M636.2,53.8 L631.5,58.4" fill="none" stroke="#000" stroke-width="1.1"/>
<text x="636.5" y="49.7" font-size="9" font-weight="bold" fill="#DC8353">y</text>
<text x="642.3" y="49.7" font-size="6.5" font-weight="bold" fill="#DC8353" textLength="3.1" lengthAdjust="spacingAndGlyphs">6</text>
<rect x="652" y="58.0" width="1" height="16.3" fill="#111"/>
<path d="M657.2,53.8 L652.5,58.4" fill="none" stroke="#000" stroke-width="1.1"/>
<path d="M652.5,74 L647.8,78.7" fill="none" stroke="#000" stroke-width="1.1"/>
<text x="647.3" y="87.7" font-size="9" font-weight="bold" fill="#177217">b</text>
<text x="653.5" y="87.1" font-size="6.5" font-weight="bold" fill="#177217" textLength="7.2" lengthAdjust="spacingAndGlyphs">20</text>
<text x="657.5" y="49.7" font-size="9" font-weight="bold" fill="#DC8353">y</text>
<text x="663.3" y="49.7" font-size="6.5" font-weight="bold" fill="#DC8353" textLength="3.1" lengthAdjust="spacingAndGlyphs">5</text>
<rect x="673" y="58.0" width="1" height="16.3" fill="#111"/>
<path d="M678.2,53.8 L673.5,58.4" fill="none" stroke="#000" stroke-width="1.1"/>
<path d="M673.5,74 L668.8,78.7" fill="none" stroke="#000" stroke-width="1.1"/>
<text x="668.3" y="87.7" font-size="9" font-weight="bold" fill="#177217">b</text>
<text x="674.5" y="87.1" font-size="6.5" font-weight="bold" fill="#177217" textLength="7.2" lengthAdjust="spacingAndGlyphs">21</text>
<text x="678.5" y="49.7" font-size="9" font-weight="bold" fill="#DC8353">y</text>
<text x="684.3" y="49.7" font-size="6.5" font-weight="bold" fill="#DC8353" textLength="3.1" lengthAdjust="spacingAndGlyphs">4</text>
<rect x="694" y="58.0" width="1" height="16.3" fill="#111"/>
<path d="M699.2,53.8 L694.5,58.4" fill="none" stroke="#000" stroke-width="1.1"/>
<text x="699.5" y="49.7" font-size="9" font-weight="bold" fill="#DC8353">y</text>
<text x="705.3" y="49.7" font-size="6.5" font-weight="bold" fill="#DC8353" textLength="3.1" lengthAdjust="spacingAndGlyphs">3</text>
<rect x="715" y="58.0" width="1" height="16.3" fill="#111"/>
<path d="M720.2,53.8 L715.5,58.4" fill="none" stroke="#000" stroke-width="1.1"/>
<text x="720.5" y="49.7" font-size="9" font-weight="bold" fill="#DC8353">y</text>
<text x="726.3" y="49.7" font-size="6.5" font-weight="bold" fill="#DC8353" textLength="3.1" lengthAdjust="spacingAndGlyphs">2</text>
<rect x="736" y="58.0" width="1" height="16.3" fill="#111"/>
<path d="M741.2,53.8 L736.5,58.4" fill="none" stroke="#000" stroke-width="1.1"/>
<path d="M736.5,74 L731.8,78.7" fill="none" stroke="#000" stroke-width="1.1"/>
<text x="731.3" y="87.7" font-size="9" font-weight="bold" fill="#177217">b</text>
<text x="737.5" y="87.1" font-size="6.5" font-weight="bold" fill="#177217" textLength="7.2" lengthAdjust="spacingAndGlyphs">24</text>
<text x="741.5" y="49.7" font-size="9" font-weight="bold" fill="#DC8353">y</text>
<text x="747.3" y="49.7" font-size="6.5" font-weight="bold" fill="#DC8353" textLength="3.1" lengthAdjust="spacingAndGlyphs">1</text>
</svg></body></html>
